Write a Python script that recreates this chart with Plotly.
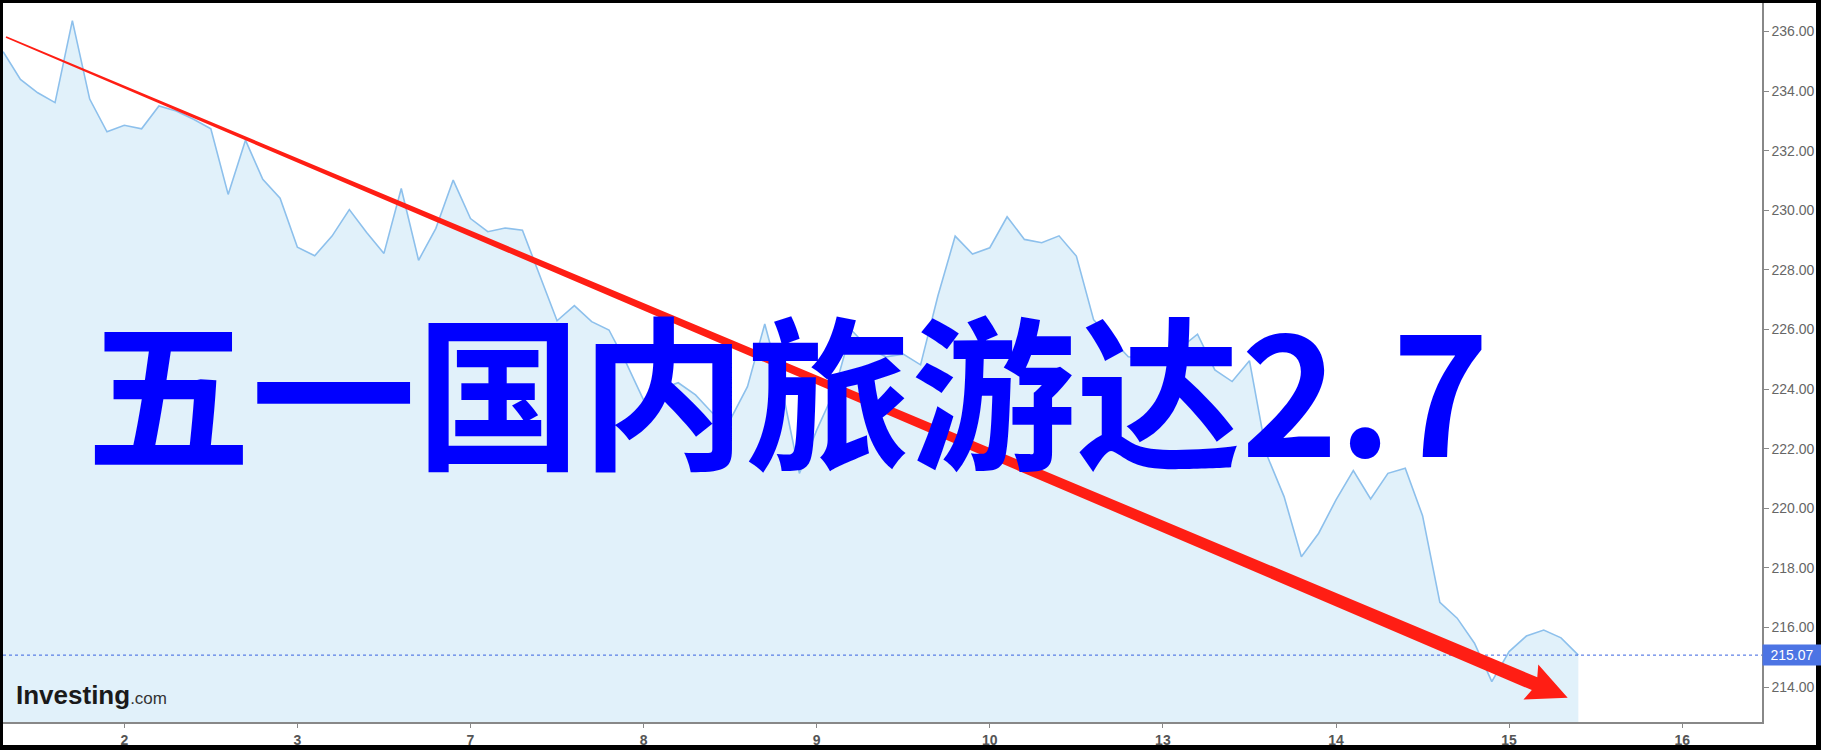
import math
import plotly.graph_objects as go

# ---------------- data ----------------
day_labels = ["2", "3", "7", "8", "9", "10", "13", "14", "15", "16"]
prices = [
    235.32, 234.39, 233.94, 233.61, 236.36, 233.73, 232.63, 232.85, 232.73, 233.50,
    233.33, 233.05, 232.73, 230.53, 232.35, 231.04, 230.40, 228.76, 228.47, 229.13,
    230.02, 229.25, 228.55, 230.73, 228.32, 229.39, 231.01, 229.72, 229.28, 229.40,
    229.33, 227.83, 226.29, 226.80, 226.26, 225.98, 224.87, 223.63, 224.00, 224.21,
    223.80, 223.18, 222.96, 224.08, 226.18, 224.00, 221.17, 222.62, 223.90, 225.98,
    225.37, 225.08, 225.17, 224.81, 227.12, 229.13, 228.53, 228.74, 229.78, 229.02,
    228.91, 229.14, 228.46, 226.32, 225.70, 225.08, 225.03, 225.10, 225.37, 225.84,
    224.64, 224.25, 224.95, 221.79, 220.39, 218.37, 219.16, 220.28, 221.26, 220.31,
    221.17, 221.34, 219.75, 216.84, 216.31, 215.47, 214.18, 215.19, 215.71, 215.91,
    215.65, 215.07,
]
last_price = 215.07
y_ticks = [214, 216, 218, 220, 222, 224, 226, 228, 230, 232, 234, 236]
headline = "五一国内旅游达2.7"

# ---------------- geometry ----------------
W, H = 1821, 750
L, R, T, B = 3, 1762, 0, 722          # plot area in pixels
first_sample = -0.7                   # position of first sample (in trading-day units)
samples_per_day = 10
x = [first_sample + i / samples_per_day for i in range(len(prices))]

px_day, day0_px = 173.1, 124.3
px_unit, y236_px = 29.8, 31.4
x_range = [(L - day0_px) / px_day, (R - day0_px) / px_day]
y_range = [236 - (B - y236_px) / px_unit, 236 + (y236_px - T) / px_unit]


def pxx(p):
    return (p - L) / (R - L)


def pyy(p):
    return (B - p) / (B - T)


# ---------------- figure ----------------
fig = go.Figure()
fig.add_trace(go.Scatter(
    x=x, y=prices, mode="lines",
    line=dict(color="#8DC0EC", width=1.6),
    fill="tozeroy", fillcolor="#E1F1FA",
    hoverinfo="skip", showlegend=False,
))

shapes = []
# dotted last-price line
shapes.append(dict(type="line", xref="paper", yref="y", x0=0, x1=1,
                   y0=last_price, y1=last_price,
                   line=dict(color="#3A62E0", width=1, dash="dot"), layer="above"))

# tapered red arrow (drawn in pixel space, converted to paper)
S = (6.0, 37.0)
E = (1567.7, 697.7)
dx, dy = E[0] - S[0], E[1] - S[1]
ln = math.hypot(dx, dy)
d = (dx / ln, dy / ln)
n = (-d[1], d[0])
hl, hw, w0, w1 = 36.0, 19.0, 0.9, 7.0
Bp = (E[0] - hl * d[0], E[1] - hl * d[1])
pts = [
    (S[0] + w0 * n[0], S[1] + w0 * n[1]),
    (Bp[0] + w1 * n[0], Bp[1] + w1 * n[1]),
    (Bp[0] + hw * n[0] - 4 * d[0], Bp[1] + hw * n[1] - 4 * d[1]),
    E,
    (Bp[0] - hw * n[0] - 4 * d[0], Bp[1] - hw * n[1] - 4 * d[1]),
    (Bp[0] - w1 * n[0], Bp[1] - w1 * n[1]),
    (S[0] - w0 * n[0], S[1] - w0 * n[1]),
]
path = "M " + " L ".join(f"{pxx(px):.5f},{pyy(py):.5f}" for px, py in pts) + " Z"
shapes.append(dict(type="path", xref="paper", yref="paper", path=path,
                   fillcolor="#FF1E14", line=dict(width=0), layer="above"))

# black frame around the picture
for (a, b, c, e) in [(0, 3, 0, H), (0, W, 0, 3), (1816, W, 0, H), (0, W, 745, H)]:
    shapes.append(dict(type="rect", xref="paper", yref="paper",
                       x0=pxx(a), x1=pxx(b), y0=pyy(e), y1=pyy(c),
                       fillcolor="black", line=dict(width=0), layer="above"))

annotations = [
    dict(text=headline, x=pxx(84), y=pyy(385), xref="paper", yref="paper",
         xanchor="left", yanchor="middle", showarrow=False,
         font=dict(family="Noto Sans CJK SC", size=165, color="#0000FF", weight="bold")),
    dict(text="<b>Investing</b><span style='font-size:17px;font-weight:normal;color:#333'>.com</span>",
         x=pxx(14), y=pyy(695), xref="paper", yref="paper",
         xanchor="left", yanchor="middle", showarrow=False,
         font=dict(family="Liberation Sans", size=26, color="#1A1A1A")),
    dict(text=f"{last_price:.2f}", x=pxx(R), y=last_price, xref="paper", yref="y",
         xanchor="left", yanchor="middle", showarrow=False, width=54, align="center",
         bgcolor="#4C74E4", borderpad=2,
         font=dict(family="Liberation Sans", size=14, color="white")),
]

fig.update_layout(
    width=W, height=H,
    margin=dict(l=L, r=W - R, t=T, b=H - B, pad=0),
    paper_bgcolor="white", plot_bgcolor="white",
    shapes=shapes, annotations=annotations,
    xaxis=dict(range=x_range, tickvals=list(range(len(day_labels))), ticktext=day_labels,
               ticks="outside", ticklen=4, tickcolor="#888", showline=True,
               linecolor="#888", linewidth=2, showgrid=False, zeroline=False,
               tickfont=dict(family="Liberation Sans", size=14, color="#555", weight="bold")),
    yaxis=dict(range=y_range, side="right", tickvals=y_ticks,
               ticktext=[f"{v:.2f}" for v in y_ticks],
               ticks="outside", ticklen=5, tickcolor="#888", showline=True,
               linecolor="#888", linewidth=1.5, showgrid=False, zeroline=False,
               tickfont=dict(family="Liberation Sans", size=14, color="#666")),
)

fig.write_html("out.html", config={"displayModeBar": False},
               post_script="document.body.style.margin='0';document.body.style.overflow='hidden';")
